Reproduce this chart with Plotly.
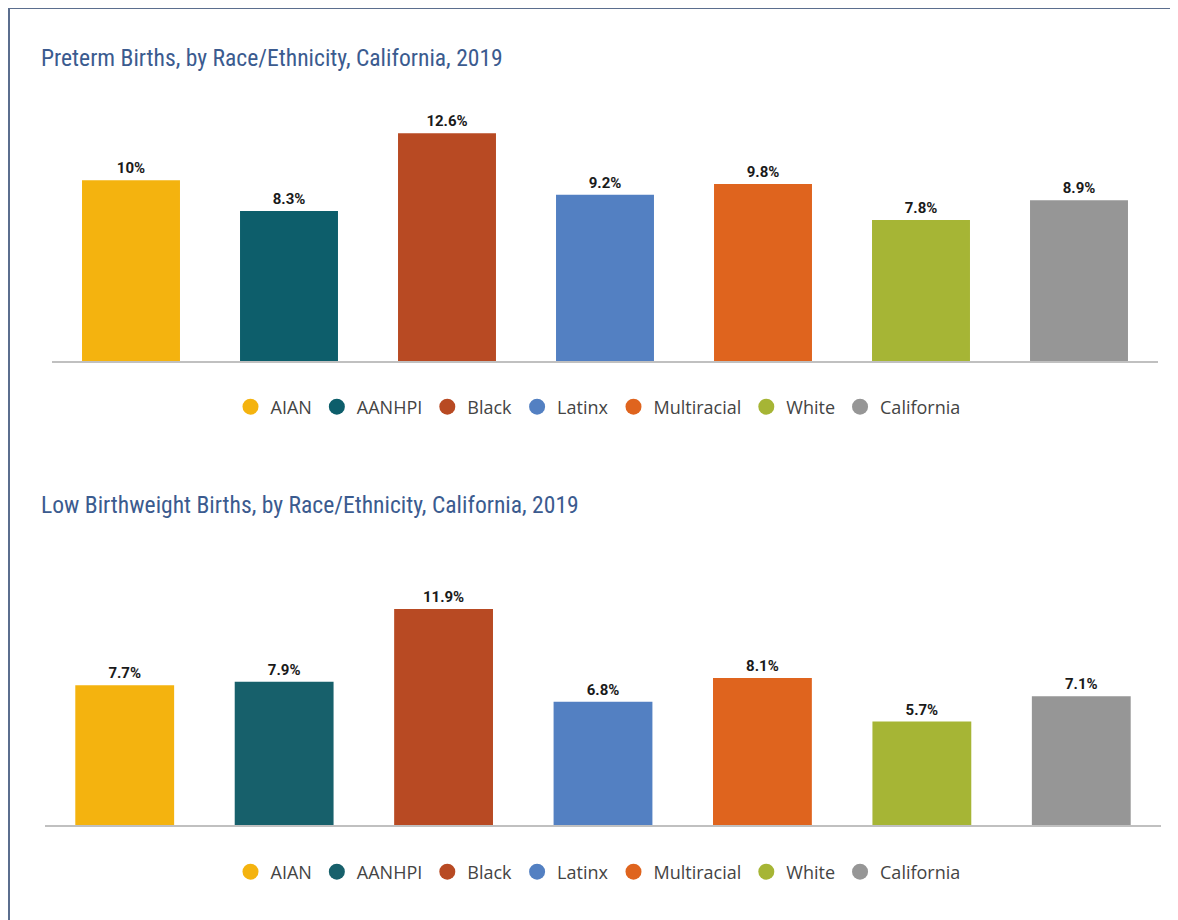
import plotly.graph_objects as go

categories = ["AIAN", "AANHPI", "Black", "Latinx", "Multiracial", "White", "California"]
preterm = [10.0, 8.3, 12.6, 9.2, 9.8, 7.8, 8.9]
preterm_labels = ["10%", "8.3%", "12.6%", "9.2%", "9.8%", "7.8%", "8.9%"]
lowbw = [7.7, 7.9, 11.9, 6.8, 8.1, 5.7, 7.1]
lowbw_labels = ["7.7%", "7.9%", "11.9%", "6.8%", "8.1%", "5.7%", "7.1%"]
colors1 = ["#F4B30F", "#0D5E6B", "#B84A23", "#5380C2", "#DF641E", "#A6B535", "#969696"]
colors2 = ["#F4B30F", "#17606B", "#B84A23", "#5380C2", "#DF641E", "#A6B535", "#969696"]
title1 = "Preterm Births, by Race/Ethnicity, California, 2019"
title2 = "Low Birthweight Births, by Race/Ethnicity, California, 2019"

# page body has an 8px margin; figure is placed at (8, 8)
OFF = 8
W, H = 1178 - OFF, 920 - OFF
def px(x): return (x - OFF) / W
def py(y): return 1 - (y - OFF) / H

label_font = dict(family="Roboto, Arial, sans-serif", size=15, color="#1a1a1a", weight="bold")

fig = go.Figure()

fig.add_trace(go.Bar(x=categories, y=preterm, text=preterm_labels, textposition="outside",
                     marker=dict(color=colors1, line=dict(width=0)), xaxis="x", yaxis="y",
                     showlegend=False, cliponaxis=False, textfont=label_font))
fig.add_trace(go.Bar(x=categories, y=lowbw, text=lowbw_labels, textposition="outside",
                     marker=dict(color=colors2, line=dict(width=0)), xaxis="x2", yaxis="y2",
                     showlegend=False, cliponaxis=False, textfont=label_font))

for cat, c in zip(categories, colors1):
    fig.add_trace(go.Scatter(x=[None], y=[None], mode="markers", name=cat,
                             marker=dict(symbol="circle", size=16, color=c),
                             xaxis="x", yaxis="y", legend="legend"))
for cat, c in zip(categories, colors2):
    fig.add_trace(go.Scatter(x=[None], y=[None], mode="markers", name=cat,
                             marker=dict(symbol="circle", size=16, color=c),
                             xaxis="x2", yaxis="y2", legend="legend2"))

axis_common = dict(showgrid=False, zeroline=False, showticklabels=False, ticks="")
legend_font = dict(family="Open Sans, sans-serif", size=18, color="#444")
fig.update_layout(
    width=W, height=H,
    margin=dict(l=0, r=0, t=0, b=0),
    paper_bgcolor="white", plot_bgcolor="white",
    bargap=0.38,
    xaxis=dict(domain=[px(52), px(1158)], showline=True, linecolor="#C0C0C0", linewidth=2,
               anchor="y", **axis_common),
    yaxis=dict(domain=[py(361), py(108)], range=[0, 14], anchor="x", showline=False, **axis_common),
    xaxis2=dict(domain=[px(45), px(1161)], showline=True, linecolor="#C0C0C0", linewidth=2,
                anchor="y2", **axis_common),
    yaxis2=dict(domain=[py(825), py(571)], range=[0, 14], anchor="x2", showline=False, **axis_common),
    legend=dict(orientation="h", x=px(598), xanchor="center", y=py(407), yanchor="middle",
                font=legend_font, itemclick=False, bgcolor="rgba(0,0,0,0)"),
    legend2=dict(orientation="h", x=px(598), xanchor="center", y=py(872), yanchor="middle",
                 font=legend_font, itemclick=False, bgcolor="rgba(0,0,0,0)"),
    showlegend=True,
)

title_font = dict(family="Liberation Sans Narrow, Roboto Condensed, Arial Narrow, sans-serif",
                  size=23.6, color="#3B5B8F")
fig.add_annotation(text=title1, x=px(39), y=py(58), xref="paper", yref="paper",
                   xanchor="left", yanchor="middle", showarrow=False, font=title_font)
fig.add_annotation(text=title2, x=px(39), y=py(505), xref="paper", yref="paper",
                   xanchor="left", yanchor="middle", showarrow=False, font=title_font)

border = dict(color="#5B6E8E", width=2)
fig.add_shape(type="line", xref="paper", yref="paper", x0=px(8), x1=1, y0=py(8), y1=py(8), line=border)
fig.add_shape(type="line", xref="paper", yref="paper", x0=px(9), x1=px(9), y0=py(8), y1=0, line=border)

fig.write_html("out.html")
